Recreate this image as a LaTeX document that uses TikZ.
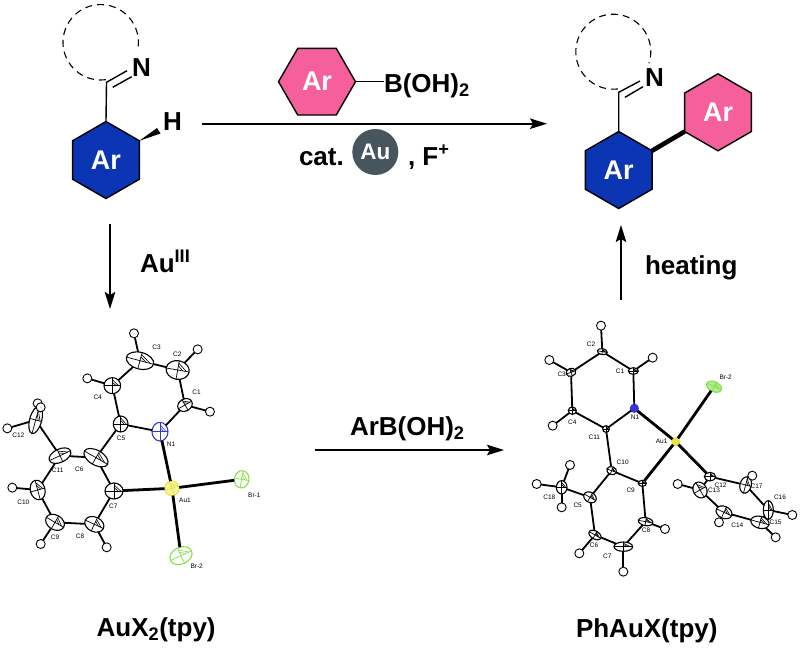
\documentclass[tikz,border=0pt]{standalone}
\usepackage{fontspec}
\setmainfont{Liberation Sans}
\usepackage{tikz}
\usetikzlibrary{arrows.meta,calc,shapes.geometric}
\definecolor{arblue}{HTML}{0B35B2}
\definecolor{arpink}{HTML}{F55F9B}
\definecolor{augrey}{HTML}{46555E}
\definecolor{aulight}{HTML}{F2F2A0}
\definecolor{auyellow}{HTML}{E6E642}
\definecolor{brgreen}{HTML}{86E048}
\definecolor{nblue}{HTML}{3434D8}
\tikzset{
  chemlabel/.style={font=\bfseries\fontsize{26}{30}\selectfont,inner sep=0pt,outer sep=0pt,anchor=base west},
  arhex/.style={regular polygon,regular polygon sides=6,shape border rotate=-30,minimum size=77pt,inner sep=0pt,outer sep=0pt,
    draw=black,line width=1.4pt,text=white,font=\bfseries\fontsize{27}{30}\selectfont},
  chembond/.style={line width=1.4pt},
  ringline/.style={line width=1.1pt,dash pattern=on 7pt off 5pt},
  rxnarrow/.style={line width=1.7pt,-{Stealth[length=17pt,width=10.5pt,inset=3pt]}},
  atom/.style={ellipse,draw,inner sep=0pt,outer sep=0pt,line width=1.1pt},
  hatom/.style={circle,draw,fill=white,minimum size=9pt,inner sep=0pt,outer sep=0pt,line width=0.9pt},
  atomlabel/.style={font=\fontsize{6.5}{7}\selectfont,inner sep=0pt},
  ortepbond/.style={line width=1.8pt},
  aubond/.style={line width=2.8pt}
}
% cross lines and one hatched octant on an atom
\newcommand{\atomcross}[2]{
  \draw[#2,line width=0.7pt] (#1.north) -- (#1.south) (#1.west) -- (#1.east);
  \draw[#2,line width=0.6pt] ($(#1.center)!.45!(#1.north)$) -- ($(#1.center)!.45!(#1.east)$)
    ($(#1.center)!.75!(#1.north)$) -- ($(#1.center)!.75!(#1.east)$);
}
\begin{document}
\begin{tikzpicture}[x=1pt,y=-1pt]
\useasboundingbox (0,0) rectangle (800,649);
% starting imine
\node[arhex,fill=arblue] (hexL) at (106,160) {Ar};
\draw[ringline] plot[smooth,domain=82:372,samples=40] ({100.7+37.7*cos(\x)},{42.3+37.7*sin(\x)});
\coordinate (cL) at (106.5,82.3);
\coordinate (nLa) at (127,70.7);
\coordinate (cLb) at (112.7,87.3);
\coordinate (nLb) at (131.7,76.7);
\coordinate (wedgeA) at (157,128);
\coordinate (wedgeB) at (160.5,133.5);
\node[chemlabel] (nL) at (132,76) {N};
\node[chemlabel] (hL) at (163,130) {H};
\draw[chembond] (hexL.corner 2) -- (cL) -- (nLa) (cLb) -- (nLb);
\fill (hexL.corner 1) -- (wedgeA) -- (wedgeB) -- cycle;
% boronic acid over the top arrow
\node[arhex,fill=arpink,shape border rotate=0] (hexB) at (317,81.7) {Ar};
\node[chemlabel] (boh) at (384,92.7) {B(OH)\textsubscript{2}};
\draw[chembond] (hexB.corner 6) -- (hexB.corner 6 -| boh.west);
\coordinate (topS) at (202,123.7);
\coordinate (topE) at (547,123.7);
\draw[rxnarrow] (topS) -- (topE);
\node[chemlabel] (cat) at (299,165) {cat.};
\node[circle,fill=augrey,text=white,minimum size=46pt,inner sep=0pt,font=\bfseries\fontsize{22.5}{25}\selectfont] (au) at (375.3,152) {Au};
\node[chemlabel] (fplus) at (408,165) {, F\textsuperscript{+}};
% biaryl product
\node[arhex,fill=arblue] (hexR) at (618.7,170) {Ar};
\node[arhex,fill=arpink] (hexP) at (718,112.3) {Ar};
\draw[ringline] plot[smooth,domain=83:378,samples=40] ({613.3+37.5*cos(\x)},{51.7+37.5*sin(\x)});
\coordinate (cR) at (618.7,92.3);
\coordinate (nRa) at (640,81);
\coordinate (cRb) at (625,97.3);
\coordinate (nRb) at (643,86.7);
\node[chemlabel] (nR) at (645,86) {N};
\draw[chembond] (hexR.corner 2) -- (cR) -- (nRa) (cRb) -- (nRb);
\draw[line width=4.6pt] (hexR.corner 1) -- (hexP.corner 4);
% side arrows
\coordinate (downS) at (110,224);
\coordinate (downE) at (110,309);
\draw[rxnarrow] (downS) -- (downE);
\node[chemlabel] (auiii) at (140,272) {Au\textsuperscript{III}};
\coordinate (upS) at (621,300);
\coordinate (upE) at (621,225);
\draw[rxnarrow] (upS) -- (upE);
\node[chemlabel] (heat) at (645,274) {heating};
\node[chemlabel] (arboh) at (350,435) {ArB(OH)\textsubscript{2}};
\coordinate (midS) at (315,450);
\coordinate (midE) at (504,450);
\draw[rxnarrow] (midS) -- (midE);
\node[chemlabel] (tpyL) at (96.7,636) {AuX\textsubscript{2}(tpy)};
\node[chemlabel] (tpyR) at (576,637) {PhAuX(tpy)};
% dibromide
\begin{scope}[shift={(0,320)},x=0.3333pt,y=-0.3333pt]
\foreach \n/\x/\y/\rx/\ry/\rt/\lx/\ly/\col/\fl in {
  C1/555/255/23/18/30/590/218/black/white,
  C2/533/150/35/28/-10/532/103/black/white,
  C3/420/122/42/25/-15/470/82/black/white,
  C4/337/197/25/24/0/293/233/black/white,
  C5/362/312/22/24/0/363/355/black/white,
  C6/288/413/40/22/-30/238/447/black/white,
  C7/342/513/27/24/0/340/558/black/white,
  C8/283/613/30/22/-25/240/648/black/white,
  C9/165/607/30/22/-30/165/652/black/white,
  C10/113/510/22/30/15/70/548/black/white,
  C11/180/407/35/20/25/173/452/black/white,
  C12/107/300/18/42/-15/55/345/black/white,
  N1/480/335/24/28/0/513/372/nblue/white,
  Au1/516/505/22/22/20/555/540/auyellow/aulight,
  Br-1/725/478/22/26/-10/763/525/brgreen/white,
  Br-2/543/707/35/25/25/590/740/brgreen/white}{
  \node[atom,draw=\col,fill=\fl,minimum width=\rx*0.667pt,minimum height=\ry*0.667pt,rotate=\rt] (a\n) at (\x,\y) {};
  \atomcross{a\n}{\col}
  \node[atomlabel] (la\n) at (\lx,\ly) {\n};
}
\foreach \x/\y/\cn [count=\i] in {402/40/C3,593/88/C2,630/275/C1,262/175/C4,37/503/C10,122/672/C9,320/682/C8,
  113/250/C12,122/262/C12,22/325/C12}{
  \node[hatom] (ah\i) at (\x,\y) {};
  \draw[ortepbond] (ah\i) -- (a\cn);
}
\foreach \a/\b in {C1/N1,C1/C2,C2/C3,C3/C4,C4/C5,C5/N1,C5/C6,C6/C7,C6/C11,C7/C8,C8/C9,C9/C10,C10/C11,C11/C12}{
  \draw[ortepbond] (a\a) -- (a\b);
}
\foreach \b in {N1,C7,Br-1,Br-2}{
  \draw[aubond] (aAu1) -- (a\b);
}
\end{scope}
% aryl complex
\begin{scope}[shift={(510,310)},x=0.3333pt,y=-0.3333pt]
\foreach \n/\x/\y/\rx/\ry/\rt/\lx/\ly/\col/\fl in {
  C1/370/183/15/10/0/330/185/black/white,
  C2/277/125/15/9/-10/243/103/black/white,
  C3/183/187/15/12/20/155/193/black/white,
  C4/187/302/12/11/0/187/338/black/white,
  C5/240/562/20/15/-30/203/587/black/white,
  C6/255/675/20/12/-30/252/707/black/white,
  C7/340/710/28/14/0/292/738/black/white,
  C8/407/635/22/12/-10/408/660/black/white,
  C9/397/520/12/9/0/362/542/black/white,
  C10/305/482/15/12/-20/338/456/black/white,
  C11/288/357/10/10/0/253/382/black/white,
  C12/600/500/17/13/0/632/527/black/white,
  C13/570/540/20/25/30/612/542/black/white,
  C14/642/607/25/18/-25/682/645/black/white,
  C15/750/637/28/18/-15/797/637/black/white,
  C16/775/600/15/28/0/810/562/black/white,
  C17/707/525/17/25/-15/740/530/black/white,
  C18/155/532/16/20/0/118/562/black/white,
  N1/373/295/12/12/0/375/322/nblue/nblue,
  Au1/497/395/12/12/0/455/395/auyellow/auyellow,
  Br-2/612/230/24/15/-25/647/203/brgreen/brgreen!60}{
  \node[atom,draw=\col,fill=\fl,minimum width=\rx*0.667pt,minimum height=\ry*0.667pt,rotate=\rt] (p\n) at (\x,\y) {};
  \atomcross{p\n}{\col}
  \node[atomlabel] (lp\n) at (\lx,\ly) {\n};
}
\foreach \x/\y/\cn [count=\i] in {273/47/C2,118/150/C3,428/143/C1,128/347/C4,180/465/C18,80/522/C18,155/592/C18,
  208/730/C6,465/657/C8,340/785/C7,503/522/C13,627/637/C14,797/682/C15,847/615/C16,727/497/C17}{
  \node[hatom] (ph\i) at (\x,\y) {};
  \draw[ortepbond] (ph\i) -- (p\cn);
}
\foreach \a/\b in {N1/C1,C1/C2,C2/C3,C3/C4,C4/C11,C11/N1,C11/C10,C10/C9,C10/C5,C5/C18,C5/C6,C6/C7,C7/C8,C8/C9,
  C12/C13,C13/C14,C14/C15,C15/C16,C16/C17,C17/C12}{
  \draw[ortepbond] (p\a) -- (p\b);
}
\foreach \b in {N1,C9,Br-2,C12}{
  \draw[aubond] (pAu1) -- (p\b);
}
\end{scope}
\end{tikzpicture}
\end{document}
